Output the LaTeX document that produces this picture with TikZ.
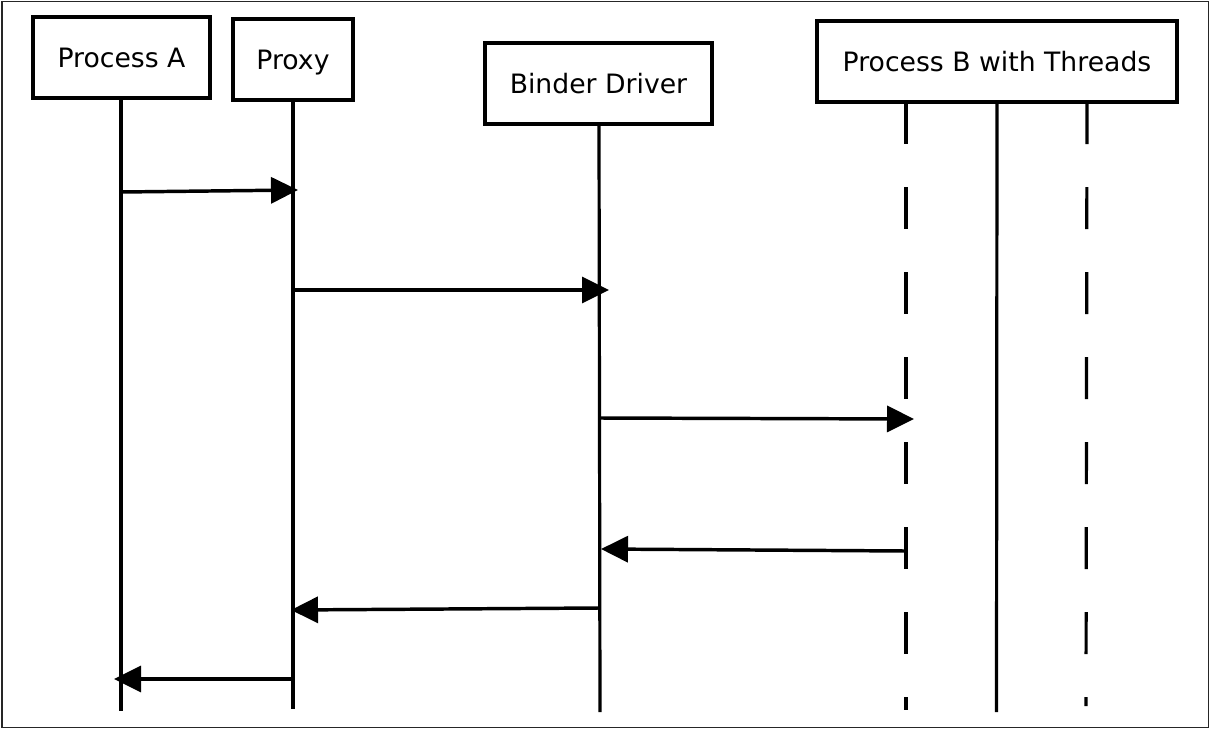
\documentclass[tikz,border=0pt]{standalone}
\usepackage{fontspec}
\setmainfont{DejaVu Sans}
\usetikzlibrary{arrows.meta}
\begin{document}
\begin{tikzpicture}[x=0.75pt,y=-0.75pt,
  actor/.style={draw=black,line width=3pt,fill=white,inner sep=0pt,outer sep=0pt,
    minimum height=81*0.75pt,font=\fontsize{20}{24}\selectfont,
    text height=14.6pt,text depth=0pt},
  life/.style={draw=black,line width=2.4pt},
  dashlife/.style={life,dash pattern=on 42*0.75pt off 43*0.75pt},
  msg/.style={draw=black,line width=2.6pt,-{Triangle[length=27*0.75pt,width=26*0.75pt]}}]
\useasboundingbox (0,0) rectangle (1211,732);
\draw[line width=1.1pt,black!85] (2,1.5) rectangle (1208.5,727.5);
% actors
\node[actor,minimum width=177*0.75pt] (pa) at (121.5,57.5) {Process A};
\node[actor,minimum width=120*0.75pt] (px) at (293,59.5) {Proxy};
\node[actor,minimum width=227*0.75pt] (bd) at (598.5,83.5) {Binder Driver};
\node[actor,minimum width=360*0.75pt] (pb) at (997,61.5) {Process B with Threads};
% lifeline ends
\coordinate (paE) at (121,711);
\coordinate (pxE) at (293,709);
\coordinate (bdE) at (600,712);
\coordinate (t1S) at (906,102); \coordinate (t1E) at (906,710);
\coordinate (t2S) at (997,102); \coordinate (t2E) at (996.5,712);
\coordinate (t3S) at (1087,102); \coordinate (t3E) at (1086,706);
\draw[life] (pa.south -| paE) -- (paE);
\draw[life] (px.south -| pxE) -- (pxE);
\draw[life] (599,124) -- (bdE);
\draw[dashlife] (t1S) -- (t1E);
\draw[life] (t2S) -- (t2E);
\draw[dashlife] (t3S) -- (t3E);
% message points
\coordinate (m1s) at (121,192); \coordinate (m1e) at (298,190);
\coordinate (m2s) at (293,290); \coordinate (m2e) at (609,290);
\coordinate (m3s) at (600,418); \coordinate (m3e) at (914,419);
\coordinate (m4s) at (906,551); \coordinate (m4e) at (601,549);
\coordinate (m5s) at (599,608); \coordinate (m5e) at (291,610);
\coordinate (m6s) at (293,679); \coordinate (m6e) at (114,679);
\draw[msg] (m1s) -- (m1e);
\draw[msg] (m2s) -- (m2e);
\draw[msg] (m3s) -- (m3e);
\draw[msg] (m4s) -- (m4e);
\draw[msg] (m5s) -- (m5e);
\draw[msg] (m6s) -- (m6e);
\end{tikzpicture}
\end{document}
